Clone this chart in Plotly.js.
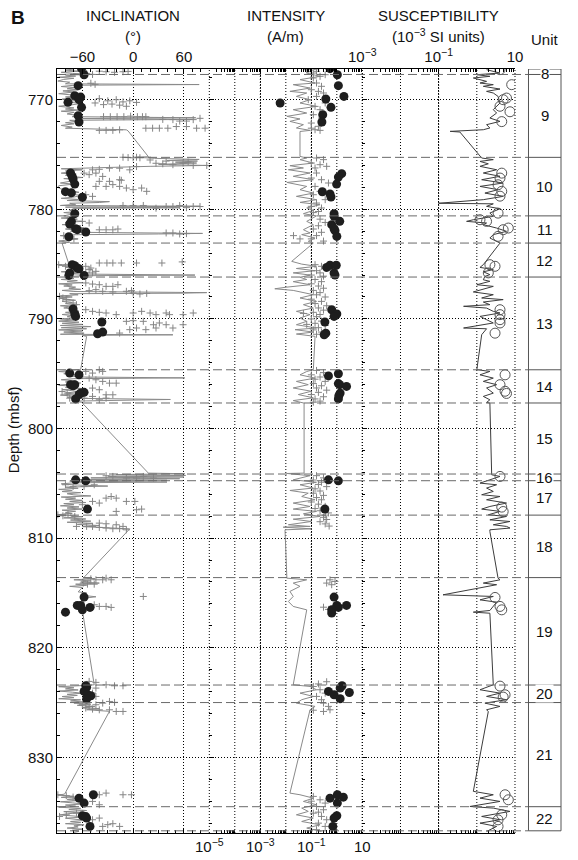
<!DOCTYPE html>
<html><head><meta charset="utf-8">
<script src="https://cdn.plot.ly/plotly-3.0.1.min.js"></script>
<style>html,body{margin:0;padding:0;background:#fff}#chart{width:578px;height:860px}</style>
</head><body><div id="chart"></div>
<script>
// ---------------- DATA ----------------
const depthRange = [836.9, 767.2];
const depthTicks = [770, 780, 790, 800, 810, 820, 830];
const incTickVals = [-60, 0, 60];
const incTickText = ['\u221260', '0', '60'];
const intTickVals = [1e-5, 1e-3, 1e-1, 10];
const intTickText = ['10<sup>\u22125</sup>', '10<sup>\u22123</sup>', '10<sup>\u22121</sup>', '10'];
const intDecadeExp = [-5, -4, -3, -2, -1, 0, 1];
const susTickVals = [1e-3, 1e-1, 10];
const susTickText = ['10<sup>\u22123</sup>', '10<sup>\u22121</sup>', '10'];
const susDecadeExp = [-3, -2, -1, 0, 1];

const unitNames = ['8','9','10','11','12','13','14','15','16','17','18','19','20','21','22'];
const unitBases = [767.7, 775.26, 780.6, 783.08, 786.18, 794.64, 797.67, 804.15, 804.76, 807.9, 813.6, 823.4, 825.0, 834.5, 836.7];

// Inclination (deg): continuous line [depth, value]
const incLine = [
[767.2,-70],[767.3,-80],[767.4,-65],[767.5,-85],[767.6,-72],[767.7,-44],[767.75,-80],[767.85,-68],[767.95,-88],[768.05,-70],[768.15,-82],[768.3,-89],[768.4,-75],[768.55,-80],[768.62,78],[768.68,-70],[768.8,-85],[768.9,-68],[769.0,-78],[769.1,-65],[769.2,-83],[769.3,-70],[769.45,-88],[769.55,-72],[769.65,-62],[769.75,-80],[769.85,-70],[769.95,-84],[770.05,-66],[770.2,-78],[770.35,-62],[770.5,-75],[770.6,-88],[770.75,-70],[770.85,-80],[770.95,-65],[771.05,-85],[771.15,-70],[771.3,-78],[771.45,-64],[771.55,-72],[771.65,74],[771.72,-68],[771.8,70],[771.88,-75],[772.0,-68],[772.1,-80],[772.2,-70],[772.35,-85],[772.5,-72],[772.6,-80],[772.75,-8],[772.85,-6],
[775.2,18],[775.25,5],[775.35,25],[775.45,78],[775.55,40],[775.6,76],[775.7,50],[775.78,75],[775.9,30],[776.0,86],[776.08,20],[776.2,-50],[776.3,-85],[776.4,-60],[776.5,-80],
[776.6,-75],[776.7,-85],[776.8,-70],[776.9,-80],[777.0,-72],[777.1,-60],[777.2,-82],[777.3,-68],[777.45,-75],[777.6,-86],[777.7,-70],[777.85,-88],[778.0,-89],[778.15,-85],[778.3,-72],[778.45,-64],[778.6,-76],[778.75,-60],[778.9,-72],[779.0,-85],[779.1,-65],[779.2,-78],[779.3,-28],[779.38,-40],[779.45,-75],[779.55,-68],[779.65,-86],[779.72,79],[779.8,-80],[779.86,55],[779.92,-70],[780.1,-75],[780.2,-65],[780.3,-82],[780.4,-70],[780.5,-78],
[780.6,-82],[780.7,-70],[780.8,-85],[780.9,-66],[781.0,-78],[781.1,-60],[781.2,-80],[781.3,-68],[781.4,-84],[781.5,-62],[781.6,-75],[781.7,-58],[781.8,-80],[781.9,-67],[782.0,-74],[782.1,-62],[782.2,82],[782.25,30],[782.32,-70],[782.4,-86],[782.5,-72],[782.6,-80],[782.7,-65],[782.8,-78],[782.9,-88],[783.0,-75],[783.1,-84],
[785.0,-76],[785.1,-88],[785.2,-70],[785.3,-80],[785.4,-62],[785.5,-78],[785.6,-68],[785.7,-85],[785.8,-65],[785.9,-74],[786.0,73],[786.06,-60],[786.15,-80],
[786.3,-70],[786.4,-85],[786.5,-66],[786.6,-78],[786.7,-60],[786.8,-88],[786.9,-72],[787.0,-82],[787.1,-68],[787.2,-76],[787.3,-62],[787.4,-84],[787.5,-70],[787.6,87],[787.65,60],[787.7,-75],[787.8,-65],[787.9,-86],[788.0,-72],[788.1,-88],[788.2,-75],[788.3,-68],[788.4,-84],[788.5,-72],[788.6,-80],[788.7,-66],[788.8,-86],[788.9,-74],[789.0,-82],[789.1,-70],[789.2,-76],[789.3,-64],[789.4,-80],[789.5,-70],[789.6,-84],[789.7,-72],[789.8,-78],[789.9,-66],[790.0,-86],[790.1,-70],[790.2,-88],[790.3,-64],[790.4,-84],[790.5,-60],[790.6,-86],[790.7,-50],[790.8,-85],[790.9,-55],[791.0,-88],[791.1,-60],[791.2,-82],[791.3,-58],[791.4,-86],[791.45,47],[791.5,-60],[791.6,-55],
[794.6,-62],[794.7,-75],[794.8,-88],[794.9,-70],[795.0,-82],[795.1,-65],[795.2,-78],[795.3,-60],[795.38,61],[795.45,-70],[795.55,-85],[795.65,-68],[795.75,-80],[795.85,-62],[795.95,-76],[796.05,-88],[796.15,-70],[796.25,-80],[796.35,-60],[796.45,-84],[796.55,-72],[796.65,-65],[796.75,-80],[796.85,-70],[796.95,-86],[797.05,-68],[797.15,-78],[797.25,-62],[797.35,44],[797.42,-55],[797.5,-72],[797.6,-61],
[804.07,18],[804.12,61],[804.2,-20],[804.28,62],[804.35,-30],[804.42,60],[804.5,-50],[804.58,55],[804.65,-65],[804.72,40],
[804.8,-75],[804.88,40],[804.95,-70],[805.05,-85],[805.15,-68],[805.25,-30],[805.35,-80],[805.45,-65],[805.55,-88],[805.65,-72],[805.75,-84],[805.85,-62],[805.95,-78],[806.05,-70],[806.15,-50],[806.25,-85],[806.35,-68],[806.45,-80],[806.55,-60],[806.65,-75],[806.75,-56],[806.85,-82],[806.95,-70],[807.05,-86],[807.15,-64],[807.25,-78],[807.35,-60],[807.45,-84],[807.55,-68],[807.65,-80],[807.75,-72],[807.85,-88],
[807.95,-70],[808.05,-60],[808.15,-82],[808.25,-56],[808.35,-74],[808.45,-50],[808.55,-78],[808.65,-48],[808.75,-66],[808.85,-40],[808.95,-60],[809.05,-30],[809.15,-4],
[813.65,-59],[813.7,-45],[813.8,-70],[813.9,-50],[814.0,-62],[814.1,-40],[814.2,-68],[814.3,-55],[814.4,-75],[814.5,-60],[814.9,-65],[815.0,-55],[815.2,-62],[815.35,-44],[815.5,-60],[815.7,-58],[816.0,-62],[816.2,-60],[816.4,-58],[816.6,-60],
[823.38,-46],[823.45,-60],[823.55,-88],[823.65,-70],[823.75,-80],[823.85,-65],[823.95,-88],[824.05,-72],[824.15,-60],[824.25,-78],[824.35,-66],[824.45,-84],[824.55,-70],[824.65,-88],[824.75,-62],[824.85,-74],[824.95,-58],
[825.05,-70],[825.15,-50],[825.25,-66],[825.35,-45],[825.45,-60],[825.55,-40],[825.65,-55],[825.8,-28],
[833.35,-81],[833.45,-89],[833.55,-70],[833.65,-85],[833.75,-60],[833.85,-78],[833.95,-66],[834.05,-86],[834.15,-72],[834.25,-58],[834.35,-80],[834.45,-68],[834.55,-88],[834.65,-62],[834.75,-76],[834.85,-55],[834.95,-82],[835.05,-64],[835.15,-78],[835.25,-87],[835.35,-70],[835.45,-60],[835.55,-80],[835.65,-66],[835.75,-56],[835.85,-74],[835.95,-62],[836.05,-80],[836.15,-58],[836.25,-70],[836.35,-65],[836.45,-78],[836.55,-60],[836.65,-72],[836.75,-64],[836.85,-70]
];

// Inclination crosses
const incCross = [
[767.4,-40],[767.45,-32],[767.5,-22],[767.45,-12],[767.42,-6],[767.6,-55],[767.7,-48],[768.5,-50],[768.6,-45],
[769.9,-40],[770.1,-30],[770.0,-20],[770.2,-12],[770.1,-4],[770.25,4],[770.3,-45],[770.45,-35],[770.4,-25],[770.5,-16],[770.6,-8],
[771.55,-35],[771.55,-27],[771.55,-19],[771.55,-11],[771.5,-3],[771.55,5],[771.55,11],[771.55,15],
[771.8,35],[771.82,47],[771.95,55],[771.95,63],[771.82,71],[771.7,79],
[772.6,15],[772.6,23],[772.6,31],[772.6,41],[772.45,51],[772.45,63],[772.6,75],[772.6,85],
[772.8,-40],[772.8,-32],[772.8,-24],[772.75,-16],
[775.25,-12],[775.28,-6],[775.3,0],[775.25,4],[775.3,8],
[775.5,20],[775.8,27],[775.6,39],[775.93,47],[775.78,59],[776.0,71],[776.0,87],[775.7,65],[775.85,35],
[776.4,-48],[776.35,-40],[776.25,-28],[776.25,-16],[776.4,-4],[776.1,4],
[776.7,-58],[776.84,-52],[776.7,-44],[777.0,-36],[777.45,-40],[777.45,-28],[777.3,-16],[777.35,-14],
[777.91,-44],[777.91,-32],[777.75,-24],[777.91,-16],[778.06,-8],[778.21,0],[778.06,10],[778.36,16],
[778.67,-56],[778.82,-48],
[779.65,-12],[779.65,0],[779.65,12],[779.9,27],[779.75,39],[779.75,47],[779.65,55],[779.85,63],[779.75,71],[779.75,79],
[781.1,-60],[781.25,-52],[781.87,-40],[781.87,-32],[781.87,-24],[781.8,-18],
[782.16,39],[782.16,47],[782.25,55],[782.22,63],[782.4,-82],[782.7,-70],
[784.9,-40],[784.9,-31],[784.9,-24],[784.9,-14],[784.9,4],[784.9,34],[784.8,58],
[785.05,-88],[785.2,-80],[785.2,-56],[785.36,-50],[785.5,-52],[785.66,-44],[785.8,-56],[785.8,-48],
[786.72,-56],[786.82,-48],[786.88,-40],[787.03,-32],[787.03,-24],[786.88,-18],
[787.42,-52],[787.33,-44],[787.48,-36],[787.54,-24],[787.48,-8],[787.42,-2],[787.64,0],[787.73,8],[787.67,16],
[787.94,-87],[788.09,-83],[788.24,-79],[788.55,-71],[788.7,-67],
[789.16,-56],[789.31,-48],[789.4,-40],[789.46,-32],[789.61,-20],[789.46,0],[789.31,10],[789.46,20],[789.61,27],[789.46,39],[789.61,43],[789.61,59],[789.46,71],
[790.22,-8],[790.16,0],[790.22,12],[790.53,24],[790.37,31],[790.53,39],[790.83,47],[790.53,59],[790.83,27],[790.98,15],[790.83,4],[790.98,-4],[791.29,-16],
[794.79,-56],[794.94,-48],[794.64,-40],[794.79,-36],
[795.4,-52],[795.55,-44],[795.7,-36],[795.86,-28],[795.86,-20],
[796.31,-48],[796.46,-40],[796.92,-32],[796.92,-24],
[796.62,-84],[796.77,-78],[797.23,-75],[797.23,-58],[797.07,-48],[797.38,-40],[797.23,-32],
[804.31,-32],[804.37,-24],[804.52,-8],[804.52,4],[804.37,12],[804.52,24],
[805.13,-80],[805.28,-71],[805.28,-58],[805.13,-46],
[806.35,-32],[806.2,-26],[806.35,-20],[806.65,-8],[806.65,2],
[807.41,4],[807.35,10],[807.56,-20],[806.65,-48],[806.8,-40],[806.95,-60],
[807.87,-89],[807.96,-83],[807.78,-77],[808.02,-69],
[808.63,-40],[808.69,-32],[808.78,-20],[808.93,-12],
[808.93,-67],[808.93,-55],[808.93,-48],[809.02,-40],[809.08,-32],[809.14,-24],[809.14,-16],[809.24,-8],
[813.71,-50],[813.8,-44],[813.8,-36],[813.65,-32],[813.8,-26],
[814.1,-59],[814.2,-54],[814.2,-46],
[815.32,12],
[816.08,-46],[816.23,-40],[816.23,-32],[816.32,-26],
[823.07,-52],[823.16,-44],[823.38,-32],[823.47,-22],[823.47,-12],
[823.68,-44],[824.14,-48],[824.44,-44],
[825.2,-60],[825.35,-52],[825.2,-44],[825.05,-36],[824.9,-28],[824.98,-22],
[825.5,-56],[825.6,-48],[825.66,-40],[825.66,-28],[825.81,-20],[825.81,-12],
[833.41,-89],[833.5,-79],[833.62,-71],[833.41,-40],[833.26,-32],[833.41,-12],[833.41,-2],
[834.02,-48],[834.32,-40],
[835.39,-87],[835.24,-79],[835.09,-67],[835.69,-48],[835.54,-40],
[836.3,-36],[836.14,-30],[836.05,-24],[836.3,-16]
];

// Inclination discrete samples (filled circles)
const incDots = [
[767.17,-61],[767.72,-58],[768.72,-65],[769.63,-69],[769.76,-62],[770.24,-77],[770.0,-64],[770.7,-61],[771.46,-65],[772.04,-64],
[776.69,-74],[777.0,-72],[777.24,-71],[777.7,-69],[778.39,-80],[778.5,-73],[778.9,-60],
[780.4,-69],[781.1,-73],[781.34,-75],[781.77,-68],[781.86,-66],[782.07,-56],[782.5,-76],
[785.05,-72],[785.14,-69],[785.36,-66],[785.42,-64],[785.81,-75],[786.03,-76],[786.03,-58],
[789.1,-71],[789.55,-69],[789.77,-68],[790.28,-37],[791.35,-42],[791.2,-36],
[794.94,-75],[795.1,-64],[796.0,-74],[796.1,-71],[796.0,-69],[796.77,-62],[796.7,-58],[796.9,-64],[797.3,-68],
[804.68,-68],[804.77,-56],[807.35,-54],
[815.38,-58],[816.14,-66],[816.14,-62],[816.32,-51],[816.54,-60],[816.75,-80],
[823.47,-56],[823.6,-55],[823.98,-58],[824.29,-54],[824.38,-50],[824.68,-55],
[833.72,-64],[833.41,-47],[834.17,-58],[835.33,-60],[835.54,-55],[835.4,-56],[836.3,-51]
];

// Intensity (A/m): continuous line
const intLine = [
[767.17,0.22],[767.26,0.12],[767.57,0.066],[767.87,0.22],[768.17,0.036],[768.48,0.14],[768.63,0.0195],[768.94,0.089],[769.24,0.0145],[769.39,0.066],[769.7,0.026],[770.0,0.089],[770.3,0.036],[770.61,0.16],[770.91,0.0195],[771.22,0.066],[771.52,0.011],[771.76,0.036],[771.98,0.0145],[772.28,0.049],[772.58,0.026],[772.8,0.089],[772.9,0.036],
[775.17,0.036],[775.32,0.066],[775.47,0.036],[775.78,0.12],[776.02,0.0145],[776.23,0.049],[776.39,0.0126],[776.69,0.089],[776.99,0.0195],[777.3,0.12],[777.55,0.011],[777.91,0.066],[778.21,0.036],[778.52,0.12],[778.82,0.026],[779.12,0.16],[779.37,0.036],[779.58,0.22],[779.88,0.066],[780.1,0.12],[780.4,0.049],
[780.6,0.16],[781.1,0.066],[781.4,0.12],[781.86,0.049],[782.16,0.089],[782.31,0.042],[782.62,0.14],[782.92,0.076],[783.08,0.12],
[784.75,0.017],[785.0,0.042],[785.2,0.16],[785.4,0.026],[785.6,0.14],[785.8,0.0195],[786.0,0.089],[786.2,0.036],[786.4,0.066],[786.6,0.0195],[786.88,0.089],[787.1,0.011],[787.25,0.0037],[787.4,0.0195],[787.79,0.12],[788.09,0.036],[788.4,0.16],[788.7,0.049],[789.01,0.12],[789.31,0.026],[789.61,0.089],[789.92,0.036],[790.22,0.066],[790.53,0.026],[790.83,0.16],[790.98,0.023],[791.2,0.12],[791.38,0.026],[791.59,0.14],
[794.63,0.12],[794.8,0.066],[795.1,0.036],[795.4,0.14],[795.7,0.026],[796.0,0.076],[796.3,0.0195],[796.6,0.10],[796.9,0.031],[797.2,0.12],[797.45,0.0195],[797.68,0.052],
[804.07,0.052],[804.1,0.011],[804.3,0.089],[804.68,0.0195],[804.9,0.16],[805.13,0.036],[805.43,0.12],[805.65,0.0145],[805.9,0.076],[806.2,0.042],[806.5,0.14],[806.8,0.0195],[807.11,0.089],[807.35,0.0195],[807.56,0.16],[807.78,0.049],[808.02,0.22],[808.27,0.0195],[808.48,0.10],[808.78,0.0126],[808.93,0.089],[809.0,0.0079],[809.15,0.10],[809.24,0.0093],
[813.65,0.011],[813.8,0.066],[814.1,0.0195],[814.4,0.036],[814.86,0.0145],[815.32,0.0195],[815.78,0.0126],[816.23,0.0195],[816.54,0.066],
[823.38,0.0195],[823.53,0.089],[823.83,0.16],[824.14,0.036],[824.44,0.12],[824.74,0.042],[825.05,0.026],[825.35,0.14],[825.66,0.089],
[833.26,0.0145],[833.41,0.036],[833.72,0.12],[834.02,0.049],[834.32,0.16],[834.63,0.042],[834.93,0.076],[835.24,0.026],[835.54,0.12],[835.85,0.042],[836.15,0.22],[836.45,0.066],[836.76,0.25]
];

const intCross = [
[767.26,0.066],[767.57,0.12],[767.41,0.16],[767.87,0.22],[767.72,0.35],[768.02,0.12],[768.48,0.16],[768.78,0.25],[769.09,0.10],[769.24,0.19],[769.39,0.30],
[770.0,0.076],[769.7,0.16],[770.61,0.14],[770.91,0.22],[770.3,0.35],[771.37,0.12],[771.67,0.25],[772.13,0.10],[772.43,0.19],[772.74,0.14],[772.6,0.10],[772.8,0.22],
[775.32,0.16],[775.47,0.30],[775.78,0.10],[775.93,0.22],[776.08,0.40],[776.23,0.14],
[776.69,0.16],[777.15,0.10],[777.3,0.25],[777.6,0.47],[777.91,0.14],[778.36,0.22],[778.67,0.12],[779.12,0.35],[779.43,0.16],[779.73,0.10],[779.88,0.25],[780.2,0.19],[780.3,0.12],
[780.9,0.22],[781.2,0.35],[781.5,0.19],[781.8,0.12],[782.1,0.25],[782.4,0.16],[782.7,0.10],[782.9,0.30],[782.4,0.02],[782.7,0.036],
[785.05,0.14],[785.2,0.25],[785.4,0.35],[785.6,0.16],[785.8,0.22],[786.0,0.10],[786.1,0.30],
[786.4,0.14],[786.6,0.25],[786.8,0.10],[787.0,0.19],[787.2,0.30],[787.4,0.12],[787.6,0.22],[787.8,0.16],[788.0,0.35],[788.2,0.10],[788.4,0.25],[788.6,0.14],[788.8,0.40],[789.0,0.19],[789.2,0.30],[789.4,0.12],[789.6,0.22],[789.8,0.16],[790.0,0.10],[790.2,0.25],[790.4,0.14],[790.6,0.35],[790.8,0.19],[791.0,0.12],[791.2,0.25],[791.4,0.16],[790.5,0.066],[789.5,0.049],
[794.7,0.16],[794.9,0.30],[795.1,0.10],[795.3,0.22],[795.5,0.14],[795.7,0.35],[795.9,0.12],[796.1,0.25],[796.3,0.16],[796.5,0.40],[796.7,0.19],[796.9,0.10],[797.1,0.30],[797.3,0.14],[797.5,0.22],[797.6,0.12],
[804.3,0.16],[804.5,0.30],[804.7,0.12],[804.9,0.25],[805.1,0.19],[805.3,0.40],[805.5,0.14],[805.7,0.22],[805.9,0.12],[806.1,0.30],[806.3,0.16],[806.5,0.25],[806.7,0.10],[806.9,0.19],[807.1,0.35],[807.3,0.14],[807.5,0.22],[807.7,0.47],[807.9,0.35],[808.1,0.30],[808.3,0.40],[808.5,0.22],[808.7,0.35],[808.9,0.50],
[813.8,0.54],[813.95,0.85],[814.1,0.40],[814.25,0.63],[816.3,0.30],[816.5,0.47],[816.4,0.72],
[823.1,0.40],[823.3,0.19],[823.53,0.12],[823.83,0.22],[824.14,0.35],[824.44,0.16],[824.74,0.25],[825.05,0.30],[825.35,0.47],[825.66,0.54],[825.81,0.30],[825.7,0.12],
[833.56,0.12],[833.87,0.22],[834.17,0.35],[834.48,0.16],[834.78,0.30],[835.09,0.12],[835.39,0.25],[835.69,0.40],[836.0,0.19],[836.3,0.35],[836.6,0.16],[834.0,0.10],[835.0,0.19]
];

const intDots = [
[767.17,0.54],[767.72,1.05],[768.72,1.15],[769.7,1.9],[770.3,0.006],[769.94,0.37],[770.7,0.59],[771.37,0.28],[772.04,0.26],
[776.75,1.55],[777.06,1.15],[777.7,0.98],[778.4,0.27],[778.6,0.54],[778.88,0.59],
[780.4,0.78],[780.64,0.78],[781.1,1.3],[781.4,0.63],[781.77,0.78],[781.95,0.85],[782.47,1.0],
[785.1,0.54],[785.1,0.95],[785.3,0.4],[785.8,0.78],[786.0,0.85],
[789.16,0.63],[789.55,1.0],[789.77,0.78],[790.28,0.34],[791.3,0.37],[791.44,0.32],
[795.0,1.15],[795.2,0.47],[795.9,1.15],[796.0,1.3],[796.16,2.4],[796.77,1.35],[797.0,1.2],[797.3,1.15],
[804.68,0.47],[804.77,1.15],[807.35,0.34],
[815.38,0.78],[816.14,1.0],[816.14,2.4],[816.32,1.15],[816.54,0.63],[816.84,0.63],
[823.47,1.6],[823.68,1.35],[823.98,0.47],[824.08,3.1],[824.29,0.78],[824.65,1.35],
[833.41,1.05],[833.63,1.8],[833.72,0.54],[834.17,1.05],[835.33,1.0],[835.54,0.78],[836.3,0.7]
];

// Susceptibility (10^-3 SI): continuous line and discrete samples
const susLine = [
[767.26,1.8],[767.57,4.05],[767.72,1.0],[767.87,2.2],[768.02,0.81],[768.33,1.8],[768.48,1.21],[768.63,2.7],[768.78,1.48],[769.03,4.05],[769.24,1.8],[769.39,2.7],[769.7,3.6],[770.3,4.05],[770.91,2.7],[771.22,3.3],[771.67,2.2],[771.98,4.05],[772.28,1.8],[772.58,2.2],[772.74,1.48],[772.89,0.2],[772.95,0.36],
[775.17,1.21],[775.32,1.34],[775.47,2.7],[775.63,1.21],[775.85,2.0],[776.08,1.21],[776.39,3.3],[776.69,1.48],[776.99,4.05],[777.3,1.34],[777.6,4.9],[777.91,1.21],[778.21,3.6],[778.52,1.63],[778.82,4.9],[779.12,1.48],[779.45,0.1],[779.5,2.7],[779.73,1.8],[779.95,4.05],[780.34,2.2],
[780.64,2.7],[780.95,0.81],[781.1,0.54],[781.25,1.8],[781.4,1.48],[781.71,3.3],[782.01,6.0],[782.31,2.7],[782.62,2.2],[783.08,4.05],
[785.05,1.48],[785.3,1.21],[785.5,2.7],[785.7,1.48],[785.96,2.2],[786.12,1.63],[786.43,1.48],[786.57,2.2],[786.88,1.0],[787.03,2.7],[787.33,1.21],[787.54,0.81],[787.79,2.7],[788.09,1.34],[788.24,4.9],[788.46,1.48],[788.7,2.2],[788.85,0.45],[789.01,1.8],[789.31,2.7],[789.46,4.05],[789.77,1.21],[790.07,1.8],[790.37,2.7],[790.83,0.45],[790.9,1.8],[791.44,1.34],
[794.63,1.0],[794.79,2.2],[795.1,1.21],[795.4,2.7],[795.7,1.48],[796.0,3.3],[796.3,1.8],[796.77,2.7],[797.07,1.48],[797.38,2.2],[797.62,1.8],[797.68,2.2],
[804.22,2.45],[804.37,4.05],[804.68,2.2],[804.98,1.21],[805.13,3.3],[805.43,1.8],[805.74,2.7],[806.04,1.34],[806.2,4.05],[806.5,1.8],[806.8,6.0],[807.11,2.2],[807.35,1.34],[807.56,4.05],[807.87,2.0],[808.02,6.0],[808.33,2.2],[808.48,7.4],[808.78,2.7],[808.93,6.0],[809.08,7.4],[809.24,2.2],[809.39,2.2],
[813.65,3.6],[813.8,4.05],[814.1,1.48],[814.25,3.3],[815.17,0.13],[815.32,2.7],[815.63,1.21],[815.84,3.3],[816.6,2.2],[816.75,0.81],[816.85,2.2],
[823.38,2.7],[823.83,1.21],[824.14,4.05],[824.44,1.8],[824.74,6.0],[825.05,1.63],[825.35,4.05],[825.66,1.8],[825.81,2.0],
[833.1,0.81],[833.41,2.7],[833.72,1.21],[834.02,4.05],[834.48,0.66],[834.63,2.7],[834.93,7.4],[835.39,1.34],[835.69,4.05],[836.0,1.21],[836.3,3.3],[836.76,1.8]
];

const susDots = [
[767.26,4.05],[768.63,8.2],[769.85,6.0],[770.0,4.9],[770.6,4.05],[771.1,7.4],[772.0,4.5],
[776.7,4.5],[777.15,4.05],[777.76,3.6],[778.36,4.5],[778.8,4.05],[780.35,3.6],
[780.95,1.21],[781.1,1.8],[781.71,6.7],[781.86,4.9],[782.47,3.6],
[785.05,2.2],[785.2,3.0],[785.8,2.0],
[789.16,4.05],[789.61,4.05],[790.07,4.05],[790.37,4.05],[791.3,3.0],
[795.1,5.5],[796.0,4.05],[796.6,5.5],[796.8,6.0],
[804.37,4.05],[807.17,4.5],[807.57,4.9],
[815.41,3.0],[816.23,4.05],[816.54,4.5],
[823.5,4.05],[824.29,5.5],[824.5,4.9],
[833.41,5.5],[833.87,6.7],[835.24,4.5],[835.7,3.6],[836.3,3.6]
];

// ---------------- PLOT ----------------
const FONT = 'Liberation Sans, Arial, Helvetica, sans-serif';
const xs = a => a.map(p => p[1]);
const ys = a => a.map(p => p[0]);
const GREY = '#8a8a8a';

function lineTrace(arr, xa, ya, color) {
  return {x: xs(arr), y: ys(arr), xaxis: xa, yaxis: ya, type: 'scatter', mode: 'lines',
    line: {color: color, width: 1}, hoverinfo: 'skip', showlegend: false};
}
function crossTrace(arr, xa, ya) {
  return {x: xs(arr), y: ys(arr), xaxis: xa, yaxis: ya, type: 'scatter', mode: 'markers',
    marker: {symbol: 'cross-thin', size: 5, color: '#858585', line: {color: '#858585', width: 1}},
    hoverinfo: 'skip', showlegend: false};
}
function dotTrace(arr, xa, ya) {
  return {x: xs(arr), y: ys(arr), xaxis: xa, yaxis: ya, type: 'scatter', mode: 'markers',
    marker: {symbol: 'circle', size: 9, color: '#1e1e1e', line: {width: 0}},
    hoverinfo: 'skip', showlegend: false};
}

const traces = [
  lineTrace(incLine, 'x', 'y', GREY), crossTrace(incCross, 'x', 'y'), dotTrace(incDots, 'x', 'y'),
  lineTrace(intLine, 'x2', 'y2', GREY), crossTrace(intCross, 'x2', 'y2'), dotTrace(intDots, 'x2', 'y2'),
  lineTrace(susLine, 'x3', 'y3', '#3c3c3c'),
  {x: xs(susDots), y: ys(susDots), xaxis: 'x3', yaxis: 'y3', type: 'scatter', mode: 'markers',
   marker: {symbol: 'circle-open', size: 10, color: '#555', line: {color: '#555', width: 1}},
   hoverinfo: 'skip', showlegend: false},
  {x: [0.5], y: [800], xaxis: 'x4', yaxis: 'y4', type: 'scatter', mode: 'markers',
   marker: {opacity: 0}, hoverinfo: 'skip', showlegend: false}
];

const DOT = '1px,2px';
const dIncl = [0, 0.3022], dInt = [0.3022, 0.6058], dSus = [0.6058, 0.9087], dUnit = [0.9355, 1];
const TFONT = {family: FONT, size: 15, color: '#111'};

const yCommon = {
  range: depthRange, autorange: false, tickmode: 'array', tickvals: depthTicks,
  ticks: 'inside', ticklen: 5, tickcolor: '#000', tickwidth: 1,
  minor: {tickmode: 'linear', tick0: 770, dtick: 2, ticks: 'inside', ticklen: 3, tickcolor: '#000', showgrid: false},
  showgrid: true, gridcolor: '#000', gridwidth: 1, griddash: DOT, zeroline: false,
  tickfont: TFONT
};
const xCommon = {
  ticks: 'inside', ticklen: 5, tickcolor: '#000', showline: true, linecolor: '#000', linewidth: 1,
  mirror: 'allticks', showgrid: true, gridcolor: '#000', gridwidth: 1, griddash: DOT, zeroline: false,
  tickfont: TFONT, tickmode: 'array', fixedrange: true
};
const logMinor = {dtick: 'D1', ticks: 'inside', ticklen: 3, tickcolor: '#000', showgrid: false};

const layout = {
  width: 578, height: 860, margin: {l: 57, r: 17, t: 69, b: 27},
  paper_bgcolor: '#fff', plot_bgcolor: 'rgba(0,0,0,0)', showlegend: false,
  font: {family: FONT, size: 15, color: '#111'},
  xaxis: Object.assign({}, xCommon, {domain: dIncl, range: [-90, 90], side: 'top', anchor: 'y',
    tickvals: incTickVals, ticktext: incTickText,
    minor: {tickmode: 'linear', tick0: 0, dtick: 10, ticks: 'inside', ticklen: 3, tickcolor: '#000', showgrid: false}}),
  xaxis2: Object.assign({}, xCommon, {domain: dInt, type: 'log', range: [-5, 1], side: 'bottom', anchor: 'y2',
    tickvals: intTickVals, ticktext: intTickText, minor: logMinor}),
  xaxis3: Object.assign({}, xCommon, {domain: dSus, type: 'log', range: [-3, 1], side: 'top', anchor: 'y3',
    tickvals: susTickVals, ticktext: susTickText, minor: logMinor}),
  xaxis4: {domain: dUnit, range: [0, 1], anchor: 'y4', showline: false, showgrid: false, zeroline: false,
    showticklabels: false, ticks: ''},
  yaxis: Object.assign({}, yCommon, {anchor: 'x', showline: true, linecolor: '#000', linewidth: 1}),
  yaxis2: Object.assign({}, yCommon, {anchor: 'x2', matches: 'y', showline: false, showticklabels: false}),
  yaxis3: Object.assign({}, yCommon, {anchor: 'x3', matches: 'y', showline: false, showticklabels: false}),
  yaxis4: {anchor: 'x4', matches: 'y', range: depthRange, showline: false, showgrid: false, zeroline: false,
    showticklabels: false, ticks: ''},
  shapes: [],
  annotations: []
};

// decade grid lines on log panels (dotted, full height) incl. separators
intDecadeExp.forEach(e => layout.shapes.push({type: 'line', xref: 'x2 domain',
  x0: (e - intDecadeExp[0]) / (intDecadeExp.length - 1), x1: (e - intDecadeExp[0]) / (intDecadeExp.length - 1),
  yref: 'paper', y0: 0, y1: 1, layer: 'below', line: {color: '#000', width: 1, dash: DOT}}));
susDecadeExp.forEach(e => layout.shapes.push({type: 'line', xref: 'x3 domain',
  x0: (e - susDecadeExp[0]) / (susDecadeExp.length - 1), x1: (e - susDecadeExp[0]) / (susDecadeExp.length - 1),
  yref: 'paper', y0: 0, y1: 1, layer: 'below', line: {color: '#000', width: 1, dash: DOT}}));

// unit boundaries: dashed lines across panels, solid lines in unit column
unitBases.forEach(b => {
  layout.shapes.push({type: 'line', xref: 'paper', x0: 0, x1: dUnit[0], yref: 'y', y0: b, y1: b,
    line: {color: '#6a6a6a', width: 1, dash: '9px,4px'}, layer: 'above'});
  layout.shapes.push({type: 'line', xref: 'x4 domain', x0: 0, x1: 1, yref: 'y4', y0: b, y1: b,
    line: {color: '#555', width: 1}});
});
// unit column box
const lastBase = unitBases[unitBases.length - 1];
layout.shapes.push({type: 'line', xref: 'x4 domain', x0: 0, x1: 1, yref: 'y4', y0: depthRange[1], y1: depthRange[1], line: {color: '#555', width: 1}});
[0, 1].forEach(xv => layout.shapes.push({type: 'line', xref: 'x4 domain', x0: xv, x1: xv, yref: 'y4',
  y0: depthRange[1], y1: lastBase, line: {color: '#555', width: 1}}));

// unit labels
unitNames.forEach((n, i) => {
  const top = i === 0 ? depthRange[1] : unitBases[i - 1];
  let mid = (top + unitBases[i]) / 2;
  mid = Math.max(mid, depthRange[1] + 0.45);
  layout.annotations.push({xref: 'x4', x: 0.5, yref: 'y4', y: mid, text: n, showarrow: false,
    font: TFONT, bgcolor: '#fff', borderpad: 0, xanchor: 'center', yanchor: 'middle'});
});

// headers: first line ends at y=26px, second line starts at y=26px
const hdr = (xref, x, y, text, extra) => Object.assign({xref: xref, x: x, yref: 'paper', y: y, text: text, showarrow: false,
  font: TFONT, xanchor: 'center', yanchor: 'middle'}, extra || {});
const L1 = {yanchor: 'bottom'}, L2 = {yanchor: 'top'};
const pxToPaper = px => 1 + (69 - px) / 764;
layout.annotations.push(
  hdr('x domain', 0.5, pxToPaper(26), 'INCLINATION', L1),
  hdr('x domain', 0.5, pxToPaper(26), '(\u00b0)', L2),
  hdr('x2 domain', 0.5, pxToPaper(26), 'INTENSITY', L1),
  hdr('x2 domain', 0.5, pxToPaper(26), '(A/m)', L2),
  hdr('x3 domain', 0.5, pxToPaper(26), 'SUSCEPTIBILITY', L1),
  hdr('x3 domain', 0.5, pxToPaper(24), '(10<sup>\u22123</sup> SI units)', L2),
  hdr('x4 domain', 0.5, 1.038, 'Unit'),
  hdr('paper', -0.077, 1.067, '<b>B</b>', {font: {family: FONT, size: 19, color: '#111'}}),
  hdr('paper', -0.085, 0.5275, 'Depth (mbsf)', {textangle: -90})
);

Plotly.newPlot('chart', traces, layout, {staticPlot: true, displayModeBar: false});
</script>
</body></html>
